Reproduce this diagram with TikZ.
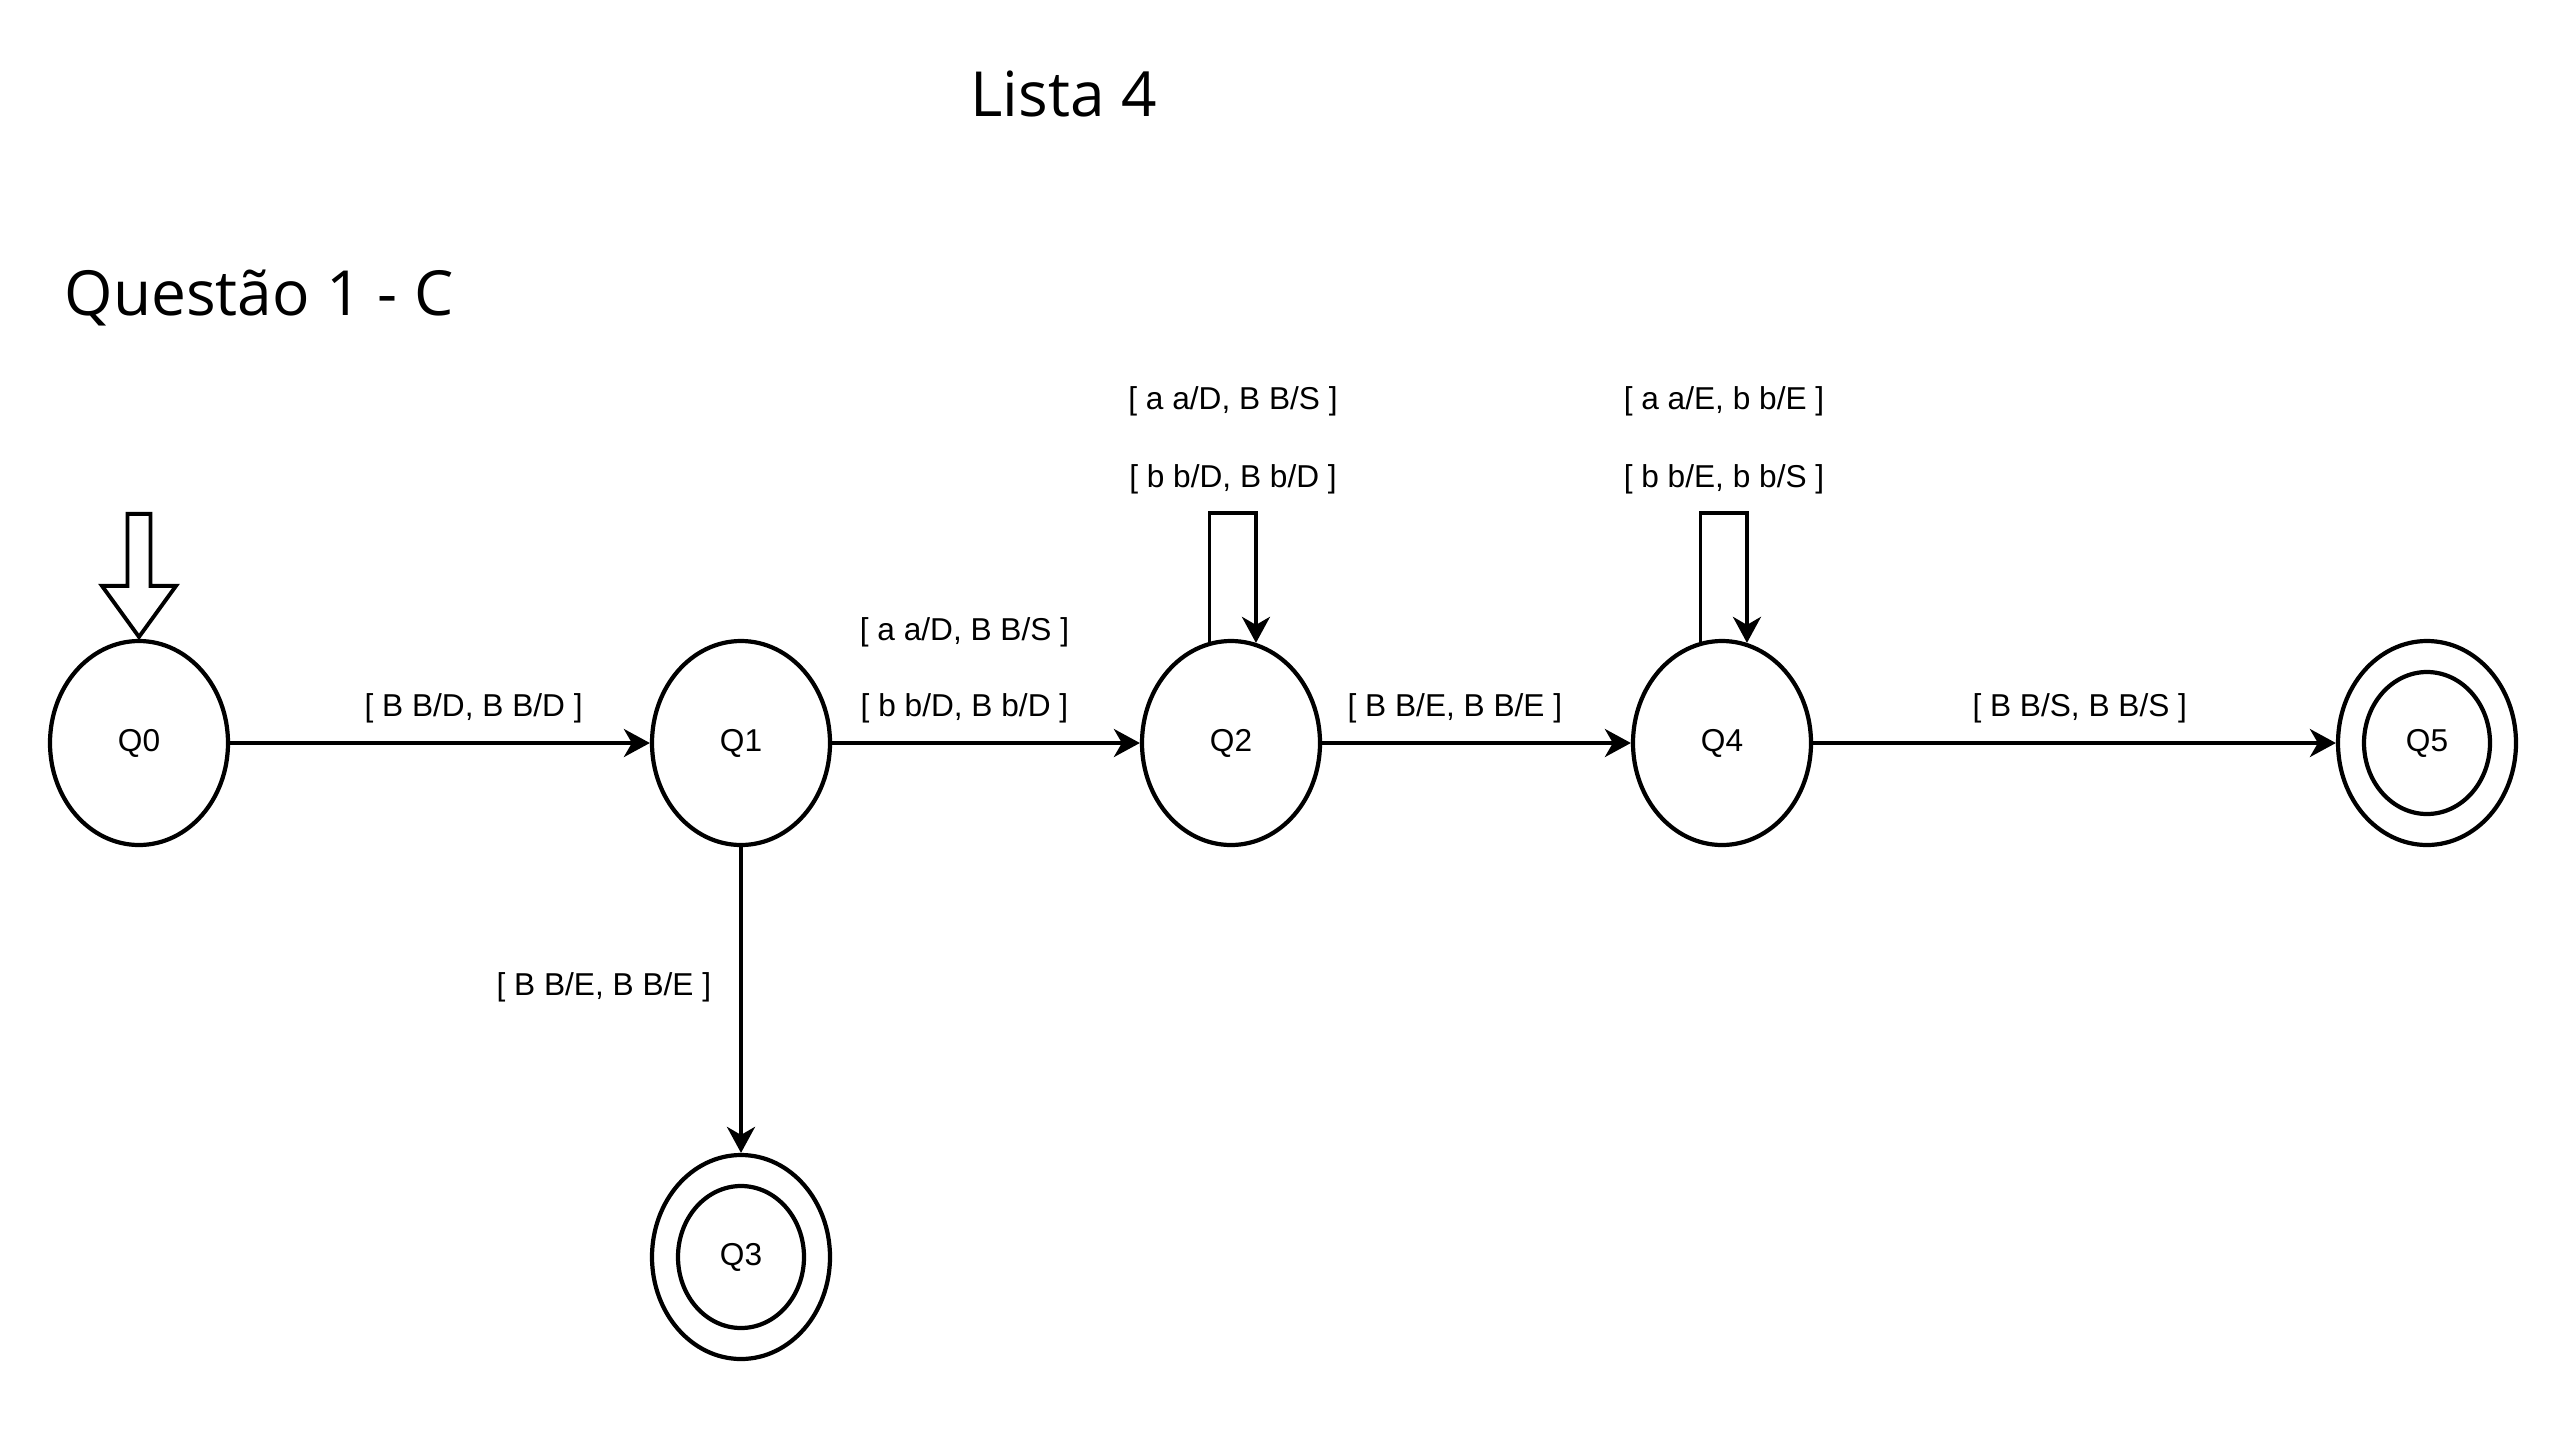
\documentclass[tikz,border=0pt]{standalone}
\usepackage{fontspec}
\setmainfont{Liberation Sans}
\newfontfamily\titlefont{Open Sans}
\usetikzlibrary{calc,positioning,arrows.meta,shapes.geometric}

\tikzset{
  qstate/.style={draw, ellipse, line width=1.2pt, minimum width=1.78cm,
    minimum height=2.04cm, inner sep=0pt, font=\fontsize{9pt}{11pt}\selectfont},
  trans/.style={line width=1.1pt, -{Stealth[length=2.6mm, width=2.8mm, inset=0.8mm]}},
  lbl/.style={font=\fontsize{9pt}{11pt}\selectfont, inner sep=0pt},
  heading/.style={font=\titlefont\fontsize{17.7pt}{22pt}\selectfont, inner sep=0pt,
    anchor=base west},
}

\begin{document}
\begin{tikzpicture}[on grid]
  \useasboundingbox (0,0) rectangle (25.6,-14.4);
  % titles
  \node [heading] (lista) at (9.70,-1.16) {Lista 4};
  \node [heading] (questao) at (0.64,-3.15) {Questão 1 - C};
  % states
  \node [qstate] (Q0) at (1.39,-7.43) {Q0};
  \node [qstate, right=6.02 of Q0] (Q1) {Q1};
  \node [qstate, right=4.90 of Q1] (Q2) {Q2};
  \node [qstate, right=4.91 of Q2] (Q4) {Q4};
  \node [qstate, right=7.05 of Q4] (Q5) {Q5};
  \node [qstate, below=5.14 of Q1] (Q3) {Q3};
  % accepting
  \draw [line width=1.2pt]
    (Q3.center) ellipse [x radius=0.63, y radius=0.71]
    (Q5.center) ellipse [x radius=0.63, y radius=0.71]
  ;
  % initial
  \draw [line width=1.1pt, line join=miter]
    ($(Q0.north)+(0,0.02)$)
    -- ++(-0.37,0.51)
    -- ++(0.255,0)
    -- ++(0,0.72)
    -- ++(0.23,0)
    -- ++(0,-0.72)
    -- ++(0.255,0)
    -- cycle
  ;
  % transitions
  \draw [trans]
    (Q0) -- (Q1)
    node [lbl, pos=0.58, yshift=0.35cm] (t01) {[ B B/D, B B/D ]}
  ;
  \draw [trans]
    (Q1) -- (Q2)
    node [lbl, pos=0.43, yshift=0.35cm] (t12b) {[ b b/D, B b/D ]}
    node [lbl, pos=0.43, yshift=1.11cm] (t12a) {[ a a/D, B B/S ]}
  ;
  \draw [trans]
    (Q2) -- (Q4)
    node [lbl, pos=0.43, yshift=0.35cm] (t24) {[ B B/E, B B/E ]}
  ;
  \draw [trans]
    (Q4) -- (Q5)
    node [lbl, pos=0.51, yshift=0.35cm] (t45) {[ B B/S, B B/S ]}
  ;
  \draw [trans]
    (Q1) -- (Q3)
    node [lbl, pos=0.46, anchor=east, xshift=-0.28cm] (t13) {[ B B/E, B B/E ]}
  ;
  % loops
  \coordinate (Q2 loop) at ($(Q2.north)+(0,1.26)$);
  \draw [trans] (Q2.102) |- (Q2 loop) -| (Q2.76);
  \node [lbl] (Q2 lbl b) at ($(Q2 loop)+(0.02,0.34)$) {[ b b/D, B b/D ]};
  \node [lbl] (Q2 lbl a) at ($(Q2 loop)+(0.02,1.12)$) {[ a a/D, B B/S ]};
  \coordinate (Q4 loop) at ($(Q4.north)+(0,1.26)$);
  \draw [trans] (Q4.102) |- (Q4 loop) -| (Q4.76);
  \node [lbl] (Q4 lbl b) at ($(Q4 loop)+(0.02,0.34)$) {[ b b/E, b b/S ]};
  \node [lbl] (Q4 lbl a) at ($(Q4 loop)+(0.02,1.12)$) {[ a a/E, b b/E ]};
\end{tikzpicture}
\end{document}
